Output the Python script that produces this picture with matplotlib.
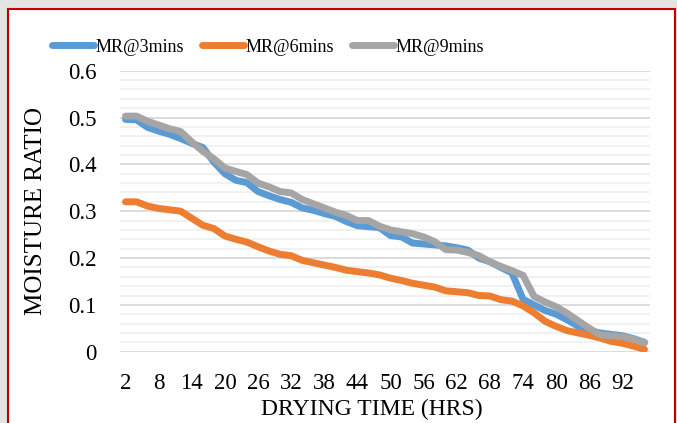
import numpy as np
import matplotlib
matplotlib.use('Agg')
from matplotlib import pyplot as plt
from matplotlib.patches import Rectangle
from matplotlib.ticker import MultipleLocator

# drying time (hrs), every 2 hours
hours = list(range(2, 97, 2))

mr_3mins = [0.496, 0.495, 0.479, 0.471, 0.464, 0.455, 0.445, 0.436, 0.405, 0.380,
            0.366, 0.361, 0.342, 0.333, 0.325, 0.319, 0.307, 0.302, 0.295, 0.289,
            0.278, 0.269, 0.267, 0.265, 0.248, 0.245, 0.232, 0.230, 0.228, 0.226,
            0.222, 0.217, 0.200, 0.192, 0.180, 0.168, 0.112, 0.100, 0.088, 0.080,
            0.068, 0.054, 0.045, 0.040, 0.037, 0.034, 0.028, 0.020]

mr_6mins = [0.320, 0.320, 0.311, 0.306, 0.303, 0.300, 0.285, 0.270, 0.263, 0.247,
            0.240, 0.234, 0.224, 0.215, 0.208, 0.205, 0.195, 0.190, 0.185, 0.180,
            0.174, 0.171, 0.168, 0.164, 0.157, 0.152, 0.146, 0.142, 0.138, 0.130,
            0.128, 0.126, 0.120, 0.119, 0.111, 0.108, 0.098, 0.083, 0.065, 0.054,
            0.045, 0.040, 0.035, 0.029, 0.022, 0.018, 0.012, 0.005]

mr_9mins = [0.503, 0.503, 0.492, 0.484, 0.476, 0.470, 0.448, 0.428, 0.412, 0.392,
            0.385, 0.378, 0.360, 0.352, 0.342, 0.339, 0.325, 0.316, 0.307, 0.298,
            0.291, 0.280, 0.280, 0.268, 0.260, 0.256, 0.252, 0.245, 0.235, 0.218,
            0.217, 0.212, 0.205, 0.192, 0.182, 0.173, 0.163, 0.118, 0.106, 0.096,
            0.082, 0.066, 0.050, 0.036, 0.034, 0.032, 0.027, 0.019]

series = [('MR@3mins', mr_3mins, '#5B9BD5'),
          ('MR@6mins', mr_6mins, '#ED7D31'),
          ('MR@9mins', mr_9mins, '#A5A5A5')]

plt.rcParams['font.family'] = ['Liberation Serif', 'DejaVu Serif']

W, H = 677, 423
fig = plt.figure(figsize=(W / 100, H / 100), dpi=100, facecolor='#e4e4e4')

# chart frame with red border
fig.patches.append(Rectangle((8 / W, -0.05), (675 - 8) / W, (H - 9) / H + 0.05,
                             transform=fig.transFigure, facecolor='white',
                             edgecolor='#C00000', linewidth=1.5, zorder=-10))

ax = fig.add_axes([120 / W, (H - 351.7) / H, 530 / W, 281 / H])
ax.set_facecolor('none')
ax.set_zorder(2)

x = np.arange(len(hours))
for label, vals, color in series:
    ax.plot(x, vals, color=color, linewidth=5, label=label,
            solid_capstyle='round', solid_joinstyle='round', zorder=3)

ax.set_xlim(-0.5, len(hours) - 0.5)
ax.set_ylim(0, 0.6)
ax.set_xticks(x[::3])
ax.set_xticklabels([str(h) for h in hours[::3]])
ax.yaxis.set_minor_locator(MultipleLocator(0.02))
ax.set_yticks([0, 0.1, 0.2, 0.3, 0.4, 0.5, 0.6])
ax.set_yticklabels(['0', '0.1', '0.2', '0.3', '0.4', '0.5', '0.6'])

ax.grid(which='minor', axis='y', color='#F0F0F0', linewidth=1.3, zorder=0)
ax.grid(which='major', axis='y', color='#D9D9D9', linewidth=1.3, zorder=1)
ax.tick_params(which='both', length=0)
ax.tick_params(axis='y', labelsize=16.5, pad=17)
ax.tick_params(axis='x', labelsize=16.5, pad=15)
for s in ax.spines.values():
    s.set_visible(False)

ax.set_xlabel('DRYING TIME (HRS)', fontsize=17, va='center')
ax.xaxis.set_label_coords((372 - 120) / 530, (351.7 - 409) / 281)
ax.set_ylabel('MOISTURE RATIO', fontsize=18, labelpad=15)

leg = fig.legend(loc='center', bbox_to_anchor=(268 / W, 1 - 47 / H), ncol=3,
                 frameon=False, fontsize=13, handlelength=2.3, handletextpad=0.1,
                 columnspacing=1.0, borderaxespad=0)

fig.savefig('out.png', dpi=100, facecolor=fig.get_facecolor())
